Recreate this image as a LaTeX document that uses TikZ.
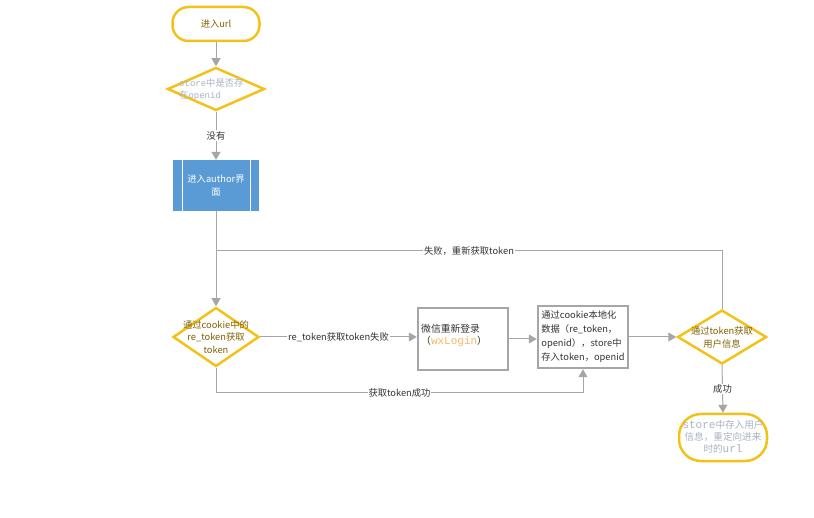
\documentclass[tikz,border=0pt]{standalone}
\usepackage{fontspec}
\setmainfont{Noto Sans CJK SC}
\newfontfamily\monof{Liberation Mono}
\usetikzlibrary{arrows.meta,shapes.geometric}
\definecolor{ylw}{HTML}{F2C21B}
\definecolor{olive}{HTML}{7F6000}
\definecolor{gry}{HTML}{A6A6A6}
\definecolor{lbl}{HTML}{333333}
\definecolor{blu}{HTML}{5B9BD5}
\definecolor{pale}{HTML}{A8B0C0}
\definecolor{orng}{HTML}{F5B860}
\tikzset{
  conn/.style={draw=gry, line width=1pt},
  arr/.style={conn, -{Triangle[width=9pt,length=8pt]}},
  term/.style={draw=ylw, line width=2.5pt, rounded corners=16pt, minimum width=#1, inner sep=0pt},
  dia/.style={draw=ylw, line width=2.5pt, shape=diamond, inner sep=0pt},
  gbox/.style={draw=gry, line width=2.5pt, inner sep=0pt},
  txt/.style={font=\fontsize{9.3pt}{13pt}\selectfont, align=center, inner sep=0pt},
  lab/.style={font=\fontsize{9.3pt}{10pt}\selectfont, text=lbl, fill=white, inner sep=1pt},
}
\begin{document}
\begin{tikzpicture}[x=1pt,y=-1pt]
\useasboundingbox (0,0) rectangle (814,518);
% start
\node[term=87pt, minimum height=34pt] (s) at (216,24) {};
\node[txt, text=olive] at (s) {进入url};
% diamond 1
\node[dia, minimum width=97pt, minimum height=43pt] (d1) at (216,89) {};
\node[txt, text=pale, align=left, anchor=west, font=\fontsize{9.3pt}{11.5pt}\selectfont] at (179,89.5) {{\monof\fontsize{9pt}{11.5pt}\selectfont store}中是否存\\在{\monof\fontsize{9pt}{11.5pt}\selectfont openid}};
% author box
\node[fill=blu, minimum width=86pt, minimum height=51pt, inner sep=0pt] (a) at (216,185.5) {};
\draw[white, line width=1pt] ([xshift=10pt]a.north west) -- ([xshift=10pt]a.south west);
\draw[white, line width=1pt] ([xshift=-9pt]a.north east) -- ([xshift=-9pt]a.south east);
\node[txt, text=white] at (a) {进入author界\\面};
% diamond 2
\node[dia, minimum width=86pt, minimum height=59pt] (d2) at (216,337) {};
\node[txt, text=olive, font=\fontsize{9.3pt}{12.5pt}\selectfont] at (d2) {通过cookie中的\\re\_token获取\\token};
% wxLogin box
\node[gbox, minimum width=90pt, minimum height=62pt] (w) at (463,339) {};
\node[txt, align=left, anchor=west, text=lbl, font=\fontsize{9.8pt}{12.5pt}\selectfont] at (421,335.5) {微信重新登录\\（{\color{orng}\monof\fontsize{11pt}{12.5pt}\selectfont wxLogin}）};
% box 3
\node[gbox, minimum width=90pt, minimum height=62pt] (c) at (583,337) {};
\node[txt, text=lbl, font=\fontsize{9.3pt}{14pt}\selectfont, align=left] at (c) {通过cookie本地化\\数据（re\_token，\\openid），store中\\存入token，openid};
% diamond 3
\node[dia, minimum width=89pt, minimum height=54pt] (d3) at (722,337) {};
\node[txt, text=olive] at (d3) {通过token获取\\用户信息};
% end
\node[term=88pt, minimum height=47pt, rounded corners=22pt] (e) at (723,437.5) {};
\node[txt, text=pale, font=\fontsize{9.6pt}{12pt}\selectfont] at (723,437) {{\monof\fontsize{11pt}{12pt}\selectfont store}中存入用户\\信息，重定向进来\\时的{\monof\fontsize{11pt}{12pt}\selectfont url}};
% connectors
\draw[arr] (s) -- (d1);
\draw[arr] (d1) -- node[lab]{没有} (a);
\draw[arr] (a) -- (d2);
\coordinate (lt) at (216,251);
\draw[conn] (d3.north) |- node[lab, pos=0.75]{失败，重新获取token} (lt);
\draw[arr] (d2.east) -- node[lab]{re\_token获取token失败} (w.west |- d2.east);
\draw[arr] (w.east) -- (c.west |- w.east);
\draw[arr] (c.east) -- (d3.west);
\coordinate (bl) at (216,393);
\draw[arr] (d2.south) |- node[lab, pos=0.75]{获取token成功} (c.south |- bl) -- (c.south);
\draw[arr] (d3.south) -- node[lab]{成功} (e.north);
\end{tikzpicture}
\end{document}
